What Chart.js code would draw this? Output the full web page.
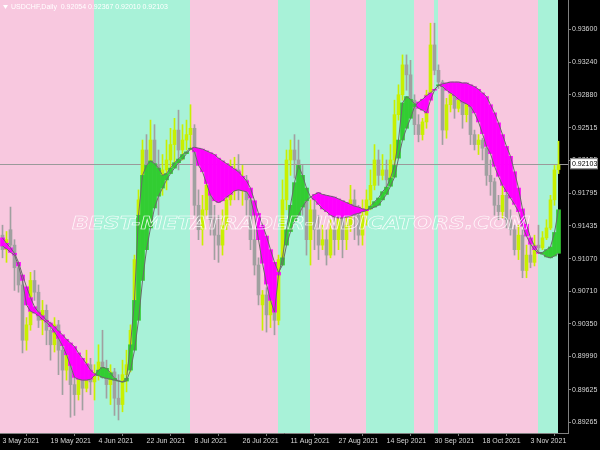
<!DOCTYPE html>
<html>
<head>
<meta charset="utf-8">
<script src="https://cdn.jsdelivr.net/npm/chart.js@4.4.0/dist/chart.umd.min.js"></script>
<style>
    html, body { margin: 0; padding: 0; background: #000; }
    canvas { display: block; }
</style>
</head>
<body>
<canvas id="chart" width="600" height="450"></canvas>
<script>
// USDCHF daily bars, 3 May 2021 -> 11 Nov 2021 (one entry per bar)
const opens = [
    0.9133, 0.9117, 0.9139, 0.9122, 0.9097, 0.9078, 0.9017, 0.9034, 0.9083, 0.9070,
    0.9039, 0.9050, 0.9028, 0.9012, 0.9034, 0.9006, 0.8984, 0.9001, 0.8968, 0.8957,
    0.8982, 0.8964, 0.8990, 0.8971, 0.8979, 0.8993, 0.8984, 0.8968, 0.8982, 0.8953,
    0.8946, 0.8979, 0.8990, 0.9028, 0.9106, 0.9172, 0.9227, 0.9210, 0.9238, 0.9210,
    0.9194, 0.9205, 0.9216, 0.9233, 0.9249, 0.9227, 0.9238, 0.9244, 0.9251, 0.9166,
    0.9139, 0.9161, 0.9188, 0.9150, 0.9133, 0.9122, 0.9144, 0.9172, 0.9199, 0.9205,
    0.9183, 0.9194, 0.9172, 0.9128, 0.9100, 0.9056, 0.9067, 0.9045, 0.9061, 0.9039,
    0.9106, 0.9172, 0.9216, 0.9227, 0.9216, 0.9199, 0.9172, 0.9128, 0.9161, 0.9139,
    0.9122, 0.9128, 0.9111, 0.9139, 0.9128, 0.9155, 0.9128, 0.9144, 0.9172, 0.9155,
    0.9133, 0.9155, 0.9172, 0.9188, 0.9216, 0.9199, 0.9205, 0.9194, 0.9216, 0.9266,
    0.9288, 0.9321, 0.9310, 0.9282, 0.9255, 0.9244, 0.9258, 0.9288, 0.9343, 0.9315,
    0.9302, 0.9249, 0.9277, 0.9288, 0.9273, 0.9282, 0.9266, 0.9277, 0.9244, 0.9233,
    0.9238, 0.9229, 0.9199, 0.9192, 0.9166, 0.9159, 0.9177, 0.9150, 0.9139, 0.9117,
    0.9133, 0.9094, 0.9111, 0.9103, 0.9122, 0.9119, 0.9130, 0.9141, 0.9172, 0.92054
];
const highs = [
    0.9144, 0.9137, 0.9164, 0.9128, 0.9103, 0.9083, 0.9042, 0.9092, 0.9094, 0.9078,
    0.9061, 0.9056, 0.9037, 0.9042, 0.9039, 0.9017, 0.9017, 0.9006, 0.8984, 0.8995,
    0.8990, 0.9006, 0.8997, 0.8990, 0.9012, 0.9028, 0.8995, 0.8990, 0.8986, 0.8979,
    0.8995, 0.9006, 0.9034, 0.9111, 0.9183, 0.9238, 0.9244, 0.9260, 0.9255, 0.9227,
    0.9222, 0.9238, 0.9251, 0.9262, 0.9271, 0.9255, 0.9260, 0.9277, 0.9255, 0.9183,
    0.9177, 0.9199, 0.9194, 0.9166, 0.9155, 0.9161, 0.9188, 0.9216, 0.9219, 0.9222,
    0.9210, 0.9199, 0.9177, 0.9139, 0.9108, 0.9072, 0.9075, 0.9067, 0.9070, 0.9111,
    0.9194, 0.9227, 0.9238, 0.9244, 0.9238, 0.9210, 0.9177, 0.9172, 0.9172, 0.9155,
    0.9144, 0.9139, 0.9150, 0.9161, 0.9172, 0.9166, 0.9155, 0.9188, 0.9183, 0.9166,
    0.9172, 0.9183, 0.9205, 0.9233, 0.9227, 0.9222, 0.9216, 0.9233, 0.9282, 0.9299,
    0.9332, 0.9332, 0.9326, 0.9288, 0.9266, 0.9262, 0.9293, 0.9367, 0.9367, 0.9321,
    0.9304, 0.9284, 0.9295, 0.9295, 0.9291, 0.9288, 0.9284, 0.9282, 0.9249, 0.9244,
    0.9240, 0.9233, 0.9216, 0.9196, 0.9177, 0.9188, 0.9183, 0.9161, 0.9144, 0.9144,
    0.9139, 0.9122, 0.9128, 0.9133, 0.9144, 0.9137, 0.9150, 0.9177, 0.9210, 0.92367
];
const lows = [
    0.9108, 0.9103, 0.9117, 0.9072, 0.9070, 0.9003, 0.9006, 0.9028, 0.9061, 0.9031,
    0.9023, 0.9012, 0.8995, 0.9004, 0.8979, 0.8957, 0.8973, 0.8932, 0.8934, 0.8951,
    0.8940, 0.8960, 0.8957, 0.8951, 0.8973, 0.8975, 0.8953, 0.8946, 0.8934, 0.8929,
    0.8938, 0.8960, 0.8982, 0.9023, 0.9100, 0.9161, 0.9197, 0.9203, 0.9172, 0.9155,
    0.9177, 0.9183, 0.9205, 0.9210, 0.9205, 0.9216, 0.9227, 0.9227, 0.9155, 0.9128,
    0.9122, 0.9155, 0.9133, 0.9106, 0.9103, 0.9111, 0.9139, 0.9166, 0.9172, 0.9172,
    0.9166, 0.9155, 0.9117, 0.9089, 0.9056, 0.9028, 0.9026, 0.9031, 0.9023, 0.9034,
    0.9100, 0.9161, 0.9199, 0.9196, 0.9183, 0.9155, 0.9111, 0.9100, 0.9117, 0.9106,
    0.9117, 0.9100, 0.9108, 0.9111, 0.9117, 0.9108, 0.9117, 0.9137, 0.9128, 0.9122,
    0.9122, 0.9144, 0.9161, 0.9183, 0.9188, 0.9194, 0.9183, 0.9188, 0.9210, 0.9260,
    0.9282, 0.9293, 0.9271, 0.9244, 0.9236, 0.9238, 0.9251, 0.9282, 0.9310, 0.9295,
    0.9233, 0.9240, 0.9269, 0.9262, 0.9269, 0.9251, 0.9258, 0.9233, 0.9227, 0.9222,
    0.9216, 0.9188, 0.9177, 0.9155, 0.9150, 0.9152, 0.9141, 0.9133, 0.9111, 0.9106,
    0.9086, 0.9086, 0.9097, 0.9099, 0.9114, 0.9117, 0.9128, 0.9139, 0.9166, 0.92010
];
const closes = [
    0.9117, 0.9128, 0.9122, 0.9097, 0.9078, 0.9017, 0.9034, 0.9083, 0.9070, 0.9039,
    0.9050, 0.9028, 0.9012, 0.9034, 0.9006, 0.8984, 0.9001, 0.8968, 0.8957, 0.8982,
    0.8964, 0.8990, 0.8971, 0.8979, 0.8993, 0.8984, 0.8968, 0.8982, 0.8953, 0.8946,
    0.8979, 0.8990, 0.9028, 0.9106, 0.9172, 0.9227, 0.9210, 0.9238, 0.9210, 0.9194,
    0.9205, 0.9216, 0.9233, 0.9249, 0.9227, 0.9238, 0.9244, 0.9251, 0.9166, 0.9139,
    0.9161, 0.9188, 0.9150, 0.9133, 0.9122, 0.9144, 0.9172, 0.9199, 0.9205, 0.9183,
    0.9194, 0.9172, 0.9128, 0.9100, 0.9067, 0.9067, 0.9045, 0.9061, 0.9039, 0.9106,
    0.9172, 0.9216, 0.9227, 0.9216, 0.9199, 0.9172, 0.9128, 0.9161, 0.9139, 0.9122,
    0.9128, 0.9111, 0.9139, 0.9128, 0.9155, 0.9128, 0.9144, 0.9172, 0.9155, 0.9133,
    0.9155, 0.9172, 0.9188, 0.9216, 0.9199, 0.9205, 0.9194, 0.9216, 0.9266, 0.9288,
    0.9321, 0.9310, 0.9282, 0.9255, 0.9244, 0.9258, 0.9288, 0.9343, 0.9315, 0.9302,
    0.9249, 0.9277, 0.9288, 0.9273, 0.9282, 0.9266, 0.9277, 0.9244, 0.9233, 0.9238,
    0.9229, 0.9199, 0.9192, 0.9166, 0.9159, 0.9177, 0.9150, 0.9139, 0.9117, 0.9133,
    0.9094, 0.9111, 0.9103, 0.9122, 0.9119, 0.9130, 0.9141, 0.9172, 0.9205, 0.92103
];

// the two smoothed indicator lines (fast / slow)
const fastLine = [
    0.9121, 0.9118, 0.9114, 0.9111, 0.9099, 0.9083, 0.9056, 0.9049, 0.9047, 0.9044,
    0.9040, 0.9037, 0.9032, 0.9026, 0.9019, 0.9011, 0.9001, 0.8989, 0.8976, 0.8974,
    0.8973, 0.8973, 0.8974, 0.8978, 0.8984, 0.8987, 0.8986, 0.8981, 0.8975, 0.8972,
    0.8971, 0.8975, 0.9012, 0.9061, 0.9155, 0.9199, 0.9210, 0.9215, 0.9212, 0.9207,
    0.9199, 0.9201, 0.9207, 0.9213, 0.9217, 0.9222, 0.9225, 0.9229, 0.9225, 0.9210,
    0.9203, 0.9190, 0.9177, 0.9171, 0.9169, 0.9171, 0.9175, 0.9178, 0.9182, 0.9183,
    0.9182, 0.9181, 0.9174, 0.9155, 0.9128, 0.9102, 0.9079, 0.9061, 0.9048, 0.9089,
    0.9108, 0.9139, 0.9166, 0.9191, 0.9210, 0.9199, 0.9185, 0.9175, 0.9172, 0.9167,
    0.9162, 0.9159, 0.9155, 0.9153, 0.9152, 0.9152, 0.9153, 0.9154, 0.9156, 0.9157,
    0.9159, 0.9160, 0.9165, 0.9170, 0.9174, 0.9181, 0.9186, 0.9196, 0.9210, 0.9238,
    0.9279, 0.9286, 0.9283, 0.9278, 0.9273, 0.9271, 0.9268, 0.9282, 0.9293, 0.9299,
    0.9297, 0.9293, 0.9290, 0.9287, 0.9283, 0.9280, 0.9278, 0.9275, 0.9268, 0.9258,
    0.9245, 0.9231, 0.9223, 0.9209, 0.9198, 0.9188, 0.9181, 0.9174, 0.9167, 0.9159,
    0.9143, 0.9132, 0.9123, 0.9117, 0.9113, 0.9114, 0.9117, 0.9120, 0.9136, 0.9161
];
const slowLine = [
    0.9130, 0.9124, 0.9119, 0.9113, 0.9103, 0.9089, 0.9076, 0.9064, 0.9054, 0.9048,
    0.9044, 0.9039, 0.9036, 0.9032, 0.9027, 0.9023, 0.9018, 0.9014, 0.9010, 0.9003,
    0.8997, 0.8991, 0.8984, 0.8980, 0.8978, 0.8976, 0.8975, 0.8974, 0.8973, 0.8972,
    0.8971, 0.8972, 0.8984, 0.9006, 0.9039, 0.9083, 0.9117, 0.9141, 0.9163, 0.9176,
    0.9185, 0.9194, 0.9201, 0.9207, 0.9213, 0.9217, 0.9223, 0.9228, 0.9230, 0.9229,
    0.9228, 0.9226, 0.9224, 0.9222, 0.9218, 0.9215, 0.9212, 0.9209, 0.9206, 0.9203,
    0.9198, 0.9193, 0.9185, 0.9171, 0.9157, 0.9144, 0.9132, 0.9117, 0.9103, 0.9092,
    0.9100, 0.9122, 0.9137, 0.9148, 0.9155, 0.9164, 0.9171, 0.9175, 0.9178, 0.9180,
    0.9178, 0.9177, 0.9176, 0.9175, 0.9173, 0.9171, 0.9169, 0.9167, 0.9165, 0.9164,
    0.9162, 0.9161, 0.9162, 0.9164, 0.9166, 0.9172, 0.9178, 0.9187, 0.9197, 0.9218,
    0.9238, 0.9251, 0.9262, 0.9275, 0.9280, 0.9283, 0.9287, 0.9290, 0.9294, 0.9298,
    0.9300, 0.9301, 0.9302, 0.9302, 0.9302, 0.9301, 0.9301, 0.9299, 0.9297, 0.9294,
    0.9290, 0.9286, 0.9277, 0.9268, 0.9257, 0.9244, 0.9231, 0.9220, 0.9203, 0.9185,
    0.9162, 0.9145, 0.9130, 0.9121, 0.9114, 0.9112, 0.9109, 0.9108, 0.9110, 0.9113
];

// axis labels
const tickBars = [0, 12, 24, 36, 48, 60, 72, 84, 96, 108, 120, 132];
const tickLabels = ['3 May 2021', '19 May 2021', '4 Jun 2021', '22 Jun 2021', '8 Jul 2021', '26 Jul 2021',
    '11 Aug 2021', '27 Aug 2021', '14 Sep 2021', '30 Sep 2021', '18 Oct 2021', '3 Nov 2021'];
const priceTicks = [0.93600, 0.93240, 0.92880, 0.92515, 0.92155, 0.91795, 0.91435,
    0.91070, 0.90710, 0.90350, 0.89990, 0.89625, 0.89265];
const symbolTitle = 'USDCHF,Daily';
const lastPrice = 0.92103;
const watermark = 'BEST-METATRADER-INDICATORS.COM';

// colours
const BULL = '#c8f000';
const BEAR = '#a0a0a0';
const UP_FILL = '#32cd32';
const DOWN_FILL = '#ff00ff';
const PINK = '#f8c8df';
const AQUA = '#a8f2d8';
const LINE_GRAY = '#6a6a6a';
const AXIS_TEXT = '#d8d8d8';
const AXIS_LINE = '#808080';
const axisFont = { family: '"Liberation Sans", Arial, sans-serif', size: 7 };

const isUp = i => fastLine[i] >= slowLine[i];
const candleColor = i => closes[i] >= opens[i] ? BULL : BEAR;

// black chart, trend bands behind the bars, bid line
const mt4Look = {
    id: 'mt4Look',
    beforeDraw(chart) {
        const { ctx, chartArea: area, scales } = chart;
        ctx.save();
        ctx.fillStyle = '#000';
        ctx.fillRect(0, 0, chart.width, chart.height);

        ctx.beginPath();
        ctx.rect(area.left, area.top, area.right - area.left, area.bottom - area.top);
        ctx.clip();
        for (let i = 0; i < closes.length; i++) {
            const x0 = i === 0 ? area.left : Math.floor(scales.x.getPixelForValue(i - 1));
            const x1 = Math.floor(scales.x.getPixelForValue(i));
            ctx.fillStyle = isUp(i) ? AQUA : PINK;
            ctx.fillRect(x0, area.top, x1 - x0, area.bottom - area.top);
        }

        const py = Math.round(scales.y.getPixelForValue(lastPrice)) - 0.5;
        ctx.strokeStyle = '#9a9a9a';
        ctx.lineWidth = 1;
        ctx.beginPath();
        ctx.moveTo(area.left, py);
        ctx.lineTo(area.right, py);
        ctx.stroke();
        ctx.restore();
    },
    afterDatasetsDraw(chart) {
        const { ctx } = chart;
        ctx.save();
        ctx.font = 'italic bold 17px "DejaVu Sans", sans-serif';
        const w = ctx.measureText(watermark).width;
        ctx.translate(301, 225);
        ctx.scale(458 / w, 1);
        ctx.textAlign = 'center';
        ctx.textBaseline = 'middle';
        ctx.strokeStyle = 'rgba(255,255,255,0.9)';
        ctx.lineWidth = 0.6;
        ctx.strokeText(watermark, 0, 0);
        ctx.restore();
    },
    afterDraw(chart) {
        const { ctx, chartArea: area, scales } = chart;
        ctx.save();
        // header
        ctx.fillStyle = '#ffffff';
        ctx.beginPath();
        ctx.moveTo(3, 5);
        ctx.lineTo(8, 5);
        ctx.lineTo(5.5, 9);
        ctx.closePath();
        ctx.fill();
        ctx.font = '7px "Liberation Sans", Arial, sans-serif';
        ctx.textBaseline = 'middle';
        const n = closes.length - 1;
        const ohlc = [opens[n], highs[n], lows[n], closes[n]].map(v => v.toFixed(5)).join(' ');
        ctx.fillText(symbolTitle + '  ' + ohlc, 11, 7);

        // bid price box
        const py = scales.y.getPixelForValue(lastPrice) - 1;
        const bx = area.right + 2;
        ctx.fillStyle = '#fff';
        ctx.fillRect(bx, py - 6, 28, 11);
        ctx.strokeStyle = '#808080';
        ctx.strokeRect(bx + 0.5, py - 5.5, 27, 10);
        ctx.fillStyle = '#000';
        ctx.fillText(lastPrice.toFixed(5), bx + 2, py);
        ctx.restore();
    }
};

const ctx = document.getElementById('chart').getContext('2d');
const chart = new Chart(ctx, {
    type: 'bar',
    data: {
        datasets: [
            {
                type: 'line',
                label: 'fast',
                data: fastLine.map((v, i) => ({ x: i, y: v })),
                borderColor: LINE_GRAY,
                borderWidth: 1,
                pointRadius: 0,
                order: 1
            },
            {
                type: 'line',
                label: 'slow',
                data: slowLine.map((v, i) => ({ x: i, y: v })),
                borderColor: LINE_GRAY,
                borderWidth: 1,
                pointRadius: 0,
                order: 2
            },
            {
                label: 'trend',
                data: fastLine.map((v, i) => ({ x: i, y: [slowLine[i], v] })),
                backgroundColor: c => isUp(c.dataIndex) ? UP_FILL : DOWN_FILL,
                barPercentage: 1,
                categoryPercentage: 1,
                grouped: false,
                borderWidth: 0,
                order: 3
            },
            {
                label: 'bodies',
                data: opens.map((v, i) => ({ x: i, y: [v, closes[i]] })),
                backgroundColor: c => candleColor(c.dataIndex),
                barThickness: 3,
                minBarLength: 1,
                grouped: false,
                borderWidth: 0,
                order: 4
            },
            {
                label: 'wicks',
                data: lows.map((v, i) => ({ x: i, y: [v, highs[i]] })),
                backgroundColor: c => candleColor(c.dataIndex),
                barThickness: 1,
                grouped: false,
                borderWidth: 0,
                order: 5
            }
        ]
    },
    options: {
        responsive: false,
        animation: false,
        devicePixelRatio: 1,
        events: [],
        layout: { padding: 0 },
        plugins: {
            legend: { display: false },
            tooltip: { enabled: false }
        },
        scales: {
            x: {
                type: 'linear',
                min: -0.625,
                max: 141.375,
                offset: false,
                afterBuildTicks: s => { s.ticks = tickBars.map(v => ({ value: v })); },
                afterFit: s => { s.height = 17; s.paddingLeft = 0; s.paddingRight = 0; },
                ticks: {
                    callback: (v, i) => tickLabels[i],
                    align: 'start',
                    color: AXIS_TEXT,
                    font: axisFont,
                    padding: 1,
                    maxRotation: 0,
                    autoSkip: false
                },
                grid: { drawOnChartArea: false, drawTicks: true, tickLength: 3, color: AXIS_LINE },
                border: { display: true, color: AXIS_LINE }
            },
            y: {
                type: 'linear',
                position: 'right',
                min: 0.89146,
                max: 0.93926,
                afterBuildTicks: s => { s.ticks = priceTicks.map(v => ({ value: v })); },
                afterFit: s => { s.width = 32; s.paddingTop = 0; s.paddingBottom = 0; },
                ticks: {
                    callback: v => v.toFixed(5),
                    color: AXIS_TEXT,
                    font: axisFont,
                    padding: 1,
                    autoSkip: false
                },
                grid: { drawOnChartArea: false, drawTicks: true, tickLength: 3, color: AXIS_LINE },
                border: { display: true, color: AXIS_LINE }
            }
        }
    },
    plugins: [mt4Look]
});
</script>
</body>
</html>
